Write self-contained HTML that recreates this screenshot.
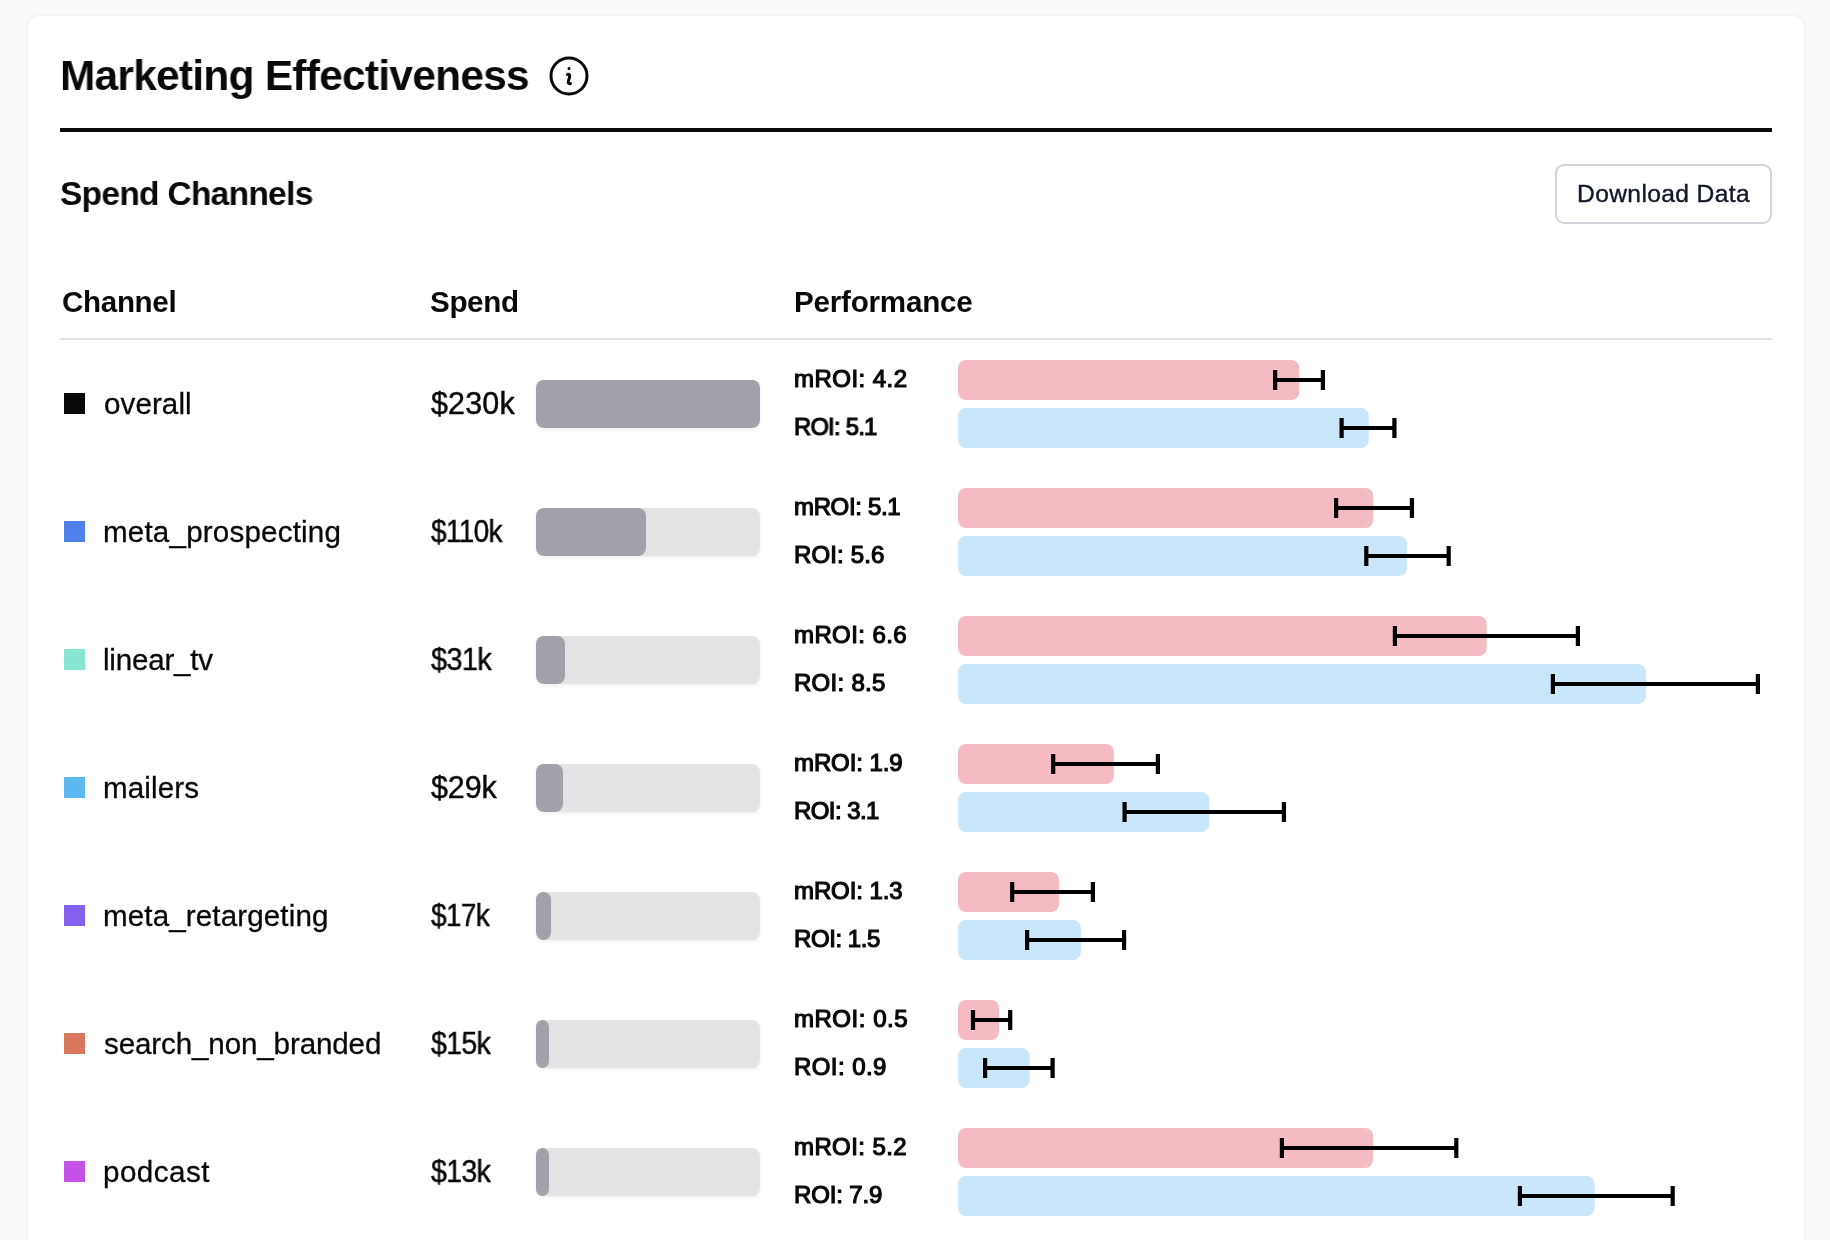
<!DOCTYPE html>
<html><head><meta charset="utf-8"><title>Marketing Effectiveness</title><style>
html,body{margin:0;padding:0}
body{width:1830px;height:1240px;overflow:hidden;background:#fafafa;font-family:"Liberation Sans", sans-serif;position:relative}
.card{position:absolute;left:28px;top:16px;width:1776px;height:1400px;background:#fff;border-radius:12px;box-shadow:0 0 3px rgba(0,0,0,0.04),0 2px 6px rgba(0,0,0,0.045)}
.t{position:absolute;line-height:0;white-space:pre;will-change:transform}
.hr1{position:absolute;left:60px;top:128px;width:1712px;height:4px;background:#09090b}
.hr2{position:absolute;left:60px;top:338px;width:1712px;height:2px;background:#e4e4e7}
.btn{position:absolute;left:1555px;top:164px;width:217px;height:60px;box-sizing:border-box;border:2px solid #d1d5db;border-radius:9px;background:#fff}
.sq{position:absolute;left:64.4px;width:20.6px;height:20.6px}
.sb{position:absolute;left:536px;width:224px;height:48px;border-radius:8px;background:#e4e4e7;box-shadow:0 2px 4px rgba(0,0,0,0.06)}
.sf{height:48px;border-radius:8px;background:#a1a1aa}
.ov{position:absolute;left:0;top:0}
.ico{position:absolute;left:545px;top:51.7px;width:48px;height:48px}
</style></head>
<body>
<div class="card"></div>
<svg class="ico" viewBox="0 0 24 24" fill="none" stroke="#09090b" stroke-width="1.5" stroke-linecap="round" stroke-linejoin="round"><path d="M11.25 11.25l.041-.02a.75.75 0 011.063.852l-.708 2.836a.75.75 0 001.063.853l.041-.021M21 12a9 9 0 11-18 0 9 9 0 0118 0zm-9-3.75h.008v.008H12V8.25z"/></svg>
<div class="hr1"></div>
<div class="btn"></div>
<div class="hr2"></div>
<div class="sq" style="top:393.1px;background:#09090b"></div>
<div class="sb" style="top:380px"><div class="sf" style="width:224px"></div></div>
<div class="sq" style="top:521.1px;background:#4f80ec"></div>
<div class="sb" style="top:508px"><div class="sf" style="width:110px"></div></div>
<div class="sq" style="top:649.1px;background:#88e5d2"></div>
<div class="sb" style="top:636px"><div class="sf" style="width:29px"></div></div>
<div class="sq" style="top:777.1px;background:#5db8f0"></div>
<div class="sb" style="top:764px"><div class="sf" style="width:27px"></div></div>
<div class="sq" style="top:905.1px;background:#8460ee"></div>
<div class="sb" style="top:892px"><div class="sf" style="width:15px"></div></div>
<div class="sq" style="top:1033.1px;background:#d9775f"></div>
<div class="sb" style="top:1020px"><div class="sf" style="width:13px"></div></div>
<div class="sq" style="top:1161.1px;background:#c552e6"></div>
<div class="sb" style="top:1148px"><div class="sf" style="width:12.5px"></div></div>
<svg class="ov" width="1830" height="1240" viewBox="0 0 1830 1240" fill="#000">
<rect x="958" y="360" width="341.3" height="40" rx="8" fill="#f4bbc2"/>
<rect x="958" y="408" width="410.8" height="40" rx="8" fill="#c9e6fa"/>
<path d="M1273.0 370h4.2v8H1320.8v-8h4.2v20h-4.2v-8H1277.2v8h-4.2z"/>
<path d="M1339.5 418h4.2v8H1392.3v-8h4.2v20h-4.2v-8H1343.7v8h-4.2z"/>
<rect x="958" y="488" width="415.2" height="40" rx="8" fill="#f4bbc2"/>
<rect x="958" y="536" width="449.1" height="40" rx="8" fill="#c9e6fa"/>
<path d="M1334.0 498h4.2v8H1409.8v-8h4.2v20h-4.2v-8H1338.2v8h-4.2z"/>
<path d="M1364.2 546h4.2v8H1446.6v-8h4.2v20h-4.2v-8H1368.4v8h-4.2z"/>
<rect x="958" y="616" width="528.7" height="40" rx="8" fill="#f4bbc2"/>
<rect x="958" y="664" width="688.0" height="40" rx="8" fill="#c9e6fa"/>
<path d="M1392.8 626h4.2v8H1575.8v-8h4.2v20h-4.2v-8H1397.0v8h-4.2z"/>
<path d="M1550.8 674h4.2v8H1755.8v-8h4.2v20h-4.2v-8H1555.0v8h-4.2z"/>
<rect x="958" y="744" width="155.8" height="40" rx="8" fill="#f4bbc2"/>
<rect x="958" y="792" width="251.3" height="40" rx="8" fill="#c9e6fa"/>
<path d="M1051.1 754h4.2v8H1155.8v-8h4.2v20h-4.2v-8H1055.3v8h-4.2z"/>
<path d="M1122.5 802h4.2v8H1281.8v-8h4.2v20h-4.2v-8H1126.7v8h-4.2z"/>
<rect x="958" y="872" width="101.0" height="40" rx="8" fill="#f4bbc2"/>
<rect x="958" y="920" width="122.9" height="40" rx="8" fill="#c9e6fa"/>
<path d="M1010.1 882h4.2v8H1090.8v-8h4.2v20h-4.2v-8H1014.3v8h-4.2z"/>
<path d="M1025.0 930h4.2v8H1122.0v-8h4.2v20h-4.2v-8H1029.2v8h-4.2z"/>
<rect x="958" y="1000" width="41.1" height="40" rx="8" fill="#f4bbc2"/>
<rect x="958" y="1048" width="71.7" height="40" rx="8" fill="#c9e6fa"/>
<path d="M970.9 1010h4.2v8H1008.1v-8h4.2v20h-4.2v-8H975.1v8h-4.2z"/>
<path d="M983.0 1058h4.2v8H1050.5v-8h4.2v20h-4.2v-8H987.2v8h-4.2z"/>
<rect x="958" y="1128" width="415.0" height="40" rx="8" fill="#f4bbc2"/>
<rect x="958" y="1176" width="636.7" height="40" rx="8" fill="#c9e6fa"/>
<path d="M1279.8 1138h4.2v8H1454.2v-8h4.2v20h-4.2v-8H1284.0v8h-4.2z"/>
<path d="M1517.8 1186h4.2v8H1670.6v-8h4.2v20h-4.2v-8H1522.0v8h-4.2z"/>
</svg>
<div class="t" style="left:60px;top:75px;font-size:43.2px;font-weight:700;letter-spacing:-0.700px;transform:scaleX(0.9802);transform-origin:0 0;color:#09090b">Marketing Effectiveness</div>
<div class="t" style="left:60px;top:193px;font-size:33.81px;font-weight:700;letter-spacing:-0.700px;transform:scaleX(0.9905);transform-origin:0 0;color:#09090b">Spend Channels</div>
<div class="t" style="left:1577px;top:194px;font-size:24.6px;font-weight:400;letter-spacing:0.375px;color:#111827;-webkit-text-stroke:0.4px #111827">Download Data</div>
<div class="t" style="left:62px;top:302px;font-size:29.59px;font-weight:700;letter-spacing:-0.333px;color:#09090b">Channel</div>
<div class="t" style="left:430px;top:302px;font-size:29.59px;font-weight:700;letter-spacing:-0.350px;color:#09090b">Spend</div>
<div class="t" style="left:794px;top:302px;font-size:29.59px;font-weight:700;letter-spacing:-0.210px;color:#09090b">Performance</div>
<div class="t" style="left:104px;top:404px;font-size:29.59px;font-weight:400;letter-spacing:0.083px;color:#09090b;-webkit-text-stroke:0.3px #09090b">overall</div>
<div class="t" style="left:431px;top:403px;font-size:30.47px;font-weight:400;letter-spacing:0.150px;color:#09090b;-webkit-text-stroke:0.45px #09090b">$230k</div>
<div class="t" style="left:794px;top:379px;font-size:24.0px;font-weight:400;letter-spacing:0.463px;color:#09090b;-webkit-text-stroke:1.2px #09090b">mROI: 4.2</div>
<div class="t" style="left:794px;top:427px;font-size:24.0px;font-weight:400;letter-spacing:-0.700px;transform:scaleX(0.9868);transform-origin:0 0;color:#09090b;-webkit-text-stroke:1.2px #09090b">ROI: 5.1</div>
<div class="t" style="left:103px;top:532px;font-size:29.59px;font-weight:400;letter-spacing:0.187px;color:#09090b;-webkit-text-stroke:0.3px #09090b">meta_prospecting</div>
<div class="t" style="left:431px;top:531px;font-size:30.47px;font-weight:400;letter-spacing:-0.700px;transform:scaleX(0.9169);transform-origin:0 0;color:#09090b;-webkit-text-stroke:0.45px #09090b">$110k</div>
<div class="t" style="left:794px;top:507px;font-size:24.0px;font-weight:400;letter-spacing:-0.350px;color:#09090b;-webkit-text-stroke:1.2px #09090b">mROI: 5.1</div>
<div class="t" style="left:794px;top:555px;font-size:24.0px;font-weight:400;letter-spacing:0.143px;color:#09090b;-webkit-text-stroke:1.2px #09090b">ROI: 5.6</div>
<div class="t" style="left:103px;top:660px;font-size:29.59px;font-weight:400;letter-spacing:-0.213px;color:#09090b;-webkit-text-stroke:0.3px #09090b">linear_tv</div>
<div class="t" style="left:431px;top:659px;font-size:30.47px;font-weight:400;letter-spacing:-0.700px;transform:scaleX(0.9499);transform-origin:0 0;color:#09090b;-webkit-text-stroke:0.45px #09090b">$31k</div>
<div class="t" style="left:794px;top:635px;font-size:24.0px;font-weight:400;letter-spacing:0.400px;color:#09090b;-webkit-text-stroke:1.2px #09090b">mROI: 6.6</div>
<div class="t" style="left:794px;top:683px;font-size:24.0px;font-weight:400;letter-spacing:0.286px;color:#09090b;-webkit-text-stroke:1.2px #09090b">ROI: 8.5</div>
<div class="t" style="left:103px;top:788px;font-size:29.59px;font-weight:400;letter-spacing:0.133px;color:#09090b;-webkit-text-stroke:0.3px #09090b">mailers</div>
<div class="t" style="left:431px;top:787px;font-size:30.47px;font-weight:400;letter-spacing:-0.100px;color:#09090b;-webkit-text-stroke:0.45px #09090b">$29k</div>
<div class="t" style="left:794px;top:763px;font-size:24.0px;font-weight:400;letter-spacing:-0.100px;color:#09090b;-webkit-text-stroke:1.2px #09090b">mROI: 1.9</div>
<div class="t" style="left:794px;top:811px;font-size:24.0px;font-weight:400;letter-spacing:-0.571px;color:#09090b;-webkit-text-stroke:1.2px #09090b">ROI: 3.1</div>
<div class="t" style="left:103px;top:916px;font-size:29.59px;font-weight:400;letter-spacing:0.120px;color:#09090b;-webkit-text-stroke:0.3px #09090b">meta_retargeting</div>
<div class="t" style="left:431px;top:915px;font-size:30.47px;font-weight:400;letter-spacing:-0.700px;transform:scaleX(0.9186);transform-origin:0 0;color:#09090b;-webkit-text-stroke:0.45px #09090b">$17k</div>
<div class="t" style="left:794px;top:891px;font-size:24.0px;font-weight:400;letter-spacing:-0.100px;color:#09090b;-webkit-text-stroke:1.2px #09090b">mROI: 1.3</div>
<div class="t" style="left:794px;top:939px;font-size:24.0px;font-weight:400;letter-spacing:-0.429px;color:#09090b;-webkit-text-stroke:1.2px #09090b">ROI: 1.5</div>
<div class="t" style="left:104px;top:1044px;font-size:29.59px;font-weight:400;letter-spacing:-0.129px;color:#09090b;-webkit-text-stroke:0.3px #09090b">search_non_branded</div>
<div class="t" style="left:431px;top:1043px;font-size:30.47px;font-weight:400;letter-spacing:-0.700px;transform:scaleX(0.9343);transform-origin:0 0;color:#09090b;-webkit-text-stroke:0.45px #09090b">$15k</div>
<div class="t" style="left:794px;top:1019px;font-size:24.0px;font-weight:400;letter-spacing:0.525px;color:#09090b;-webkit-text-stroke:1.2px #09090b">mROI: 0.5</div>
<div class="t" style="left:794px;top:1067px;font-size:24.0px;font-weight:400;letter-spacing:0.429px;color:#09090b;-webkit-text-stroke:1.2px #09090b">ROI: 0.9</div>
<div class="t" style="left:103px;top:1172px;font-size:29.59px;font-weight:400;letter-spacing:0.467px;color:#09090b;-webkit-text-stroke:0.3px #09090b">podcast</div>
<div class="t" style="left:431px;top:1171px;font-size:30.47px;font-weight:400;letter-spacing:-0.700px;transform:scaleX(0.9343);transform-origin:0 0;color:#09090b;-webkit-text-stroke:0.45px #09090b">$13k</div>
<div class="t" style="left:794px;top:1147px;font-size:24.0px;font-weight:400;letter-spacing:0.400px;color:#09090b;-webkit-text-stroke:1.2px #09090b">mROI: 5.2</div>
<div class="t" style="left:794px;top:1195px;font-size:24.0px;font-weight:400;letter-spacing:-0.143px;color:#09090b;-webkit-text-stroke:1.2px #09090b">ROI: 7.9</div>
</body></html>
